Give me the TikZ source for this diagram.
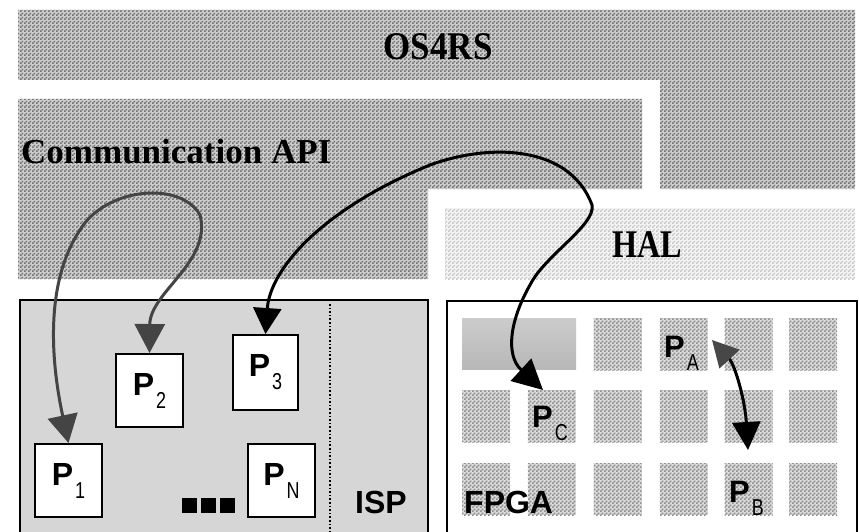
\documentclass[tikz,border=0pt]{standalone}
\usepackage{fontspec}
\setmainfont{Liberation Serif}
\setsansfont{Liberation Sans}
\usetikzlibrary{arrows.meta,patterns}

% fine checkerboard used for the dithered layer fills
\pgfdeclarepatternformonly{checker}{\pgfpointorigin}{\pgfpoint{4pt}{4pt}}{\pgfpoint{4pt}{4pt}}{%
  \pgfpathrectangle{\pgfpointorigin}{\pgfpoint{2pt}{2pt}}%
  \pgfpathrectangle{\pgfpoint{2pt}{2pt}}{\pgfpoint{2pt}{2pt}}%
  \pgfusepath{fill}}

\definecolor{osbase}{HTML}{CECECE}
\definecolor{osdots}{HTML}{6E6E6E}
\definecolor{halbase}{HTML}{F4F4F4}
\definecolor{haldots}{HTML}{C6C6C6}
\definecolor{cellbase}{HTML}{DCDCDC}
\definecolor{celldots}{HTML}{8C8C8C}
\definecolor{ispgray}{HTML}{D6D6D6}
\definecolor{loopgray}{HTML}{444444}

% P with a lowered, narrow index
\newcommand\plab[1]{\textbf{P}\kern2pt\raisebox{-13pt}{\fontsize{23}{23}\selectfont\scalebox{0.78}[1]{#1}}}

\tikzset{
  oslayer/.style={preaction={fill=osbase},pattern=checker,pattern color=osdots},
  hallayer/.style={preaction={fill=halbase},pattern=checker,pattern color=haldots},
  tile/.style={rectangle,minimum width=48pt,minimum height=52pt,inner sep=0pt,
    preaction={fill=cellbase},pattern=checker,pattern color=celldots},
  layertext/.style={font=\fontsize{35}{40}\selectfont\bfseries,inner sep=0pt},
  sanstext/.style={font=\sffamily\fontsize{32}{32}\selectfont\bfseries,inner sep=0pt},
  plabel/.style={font=\sffamily\fontsize{31}{31}\selectfont,inner sep=0pt},
  pbox/.style={draw=black,line width=2pt,fill=white,minimum width=67pt,
    minimum height=73pt,inner sep=0pt,font=\sffamily\fontsize{32}{32}\selectfont},
  container/.style={draw=black,line width=2.5pt},
  link/.style={line width=3pt,line cap=round}
}

\begin{document}
\begin{tikzpicture}[x=1pt,y=-1pt]
\useasboundingbox (0,0) rectangle (859,532);
\clip (0,0) rectangle (859,532);
\fill[white] (0,0) rectangle (859,532);

% OS4RS layer (L shape)
\fill[oslayer] (18,10) -- (855,10) -- (855,189) -- (660,189) -- (660,80) -- (18,80) -- cycle;
% Communication API layer
\fill[oslayer] (18,99) -- (642,99) -- (642,189) -- (428,189) -- (428,279) -- (18,279) -- cycle;
% HAL layer
\fill[hallayer] (445,208) rectangle (855,279);

\node[layertext,anchor=base] (os) at (438,60) {\scalebox{1}[1.12]{OS4RS}};
\node[layertext,anchor=base west] (api) at (21,164) {Communication API};
\node[layertext,anchor=base] (hal) at (647,257) {\scalebox{0.92}[1.12]{HAL}};

% processor side
\draw[container,fill=ispgray] (20,300) rectangle (428,550);
\coordinate (divtop) at (330,304);
\coordinate (divbot) at (330,532);
\draw[dotted,line width=1.6pt] (divtop) -- (divbot);
\node[sanstext,anchor=base] (isp) at (381,513) {ISP};

\node[pbox] (p1) at (68.5,480.5) {\plab{1}};
\node[pbox] (p2) at (149.5,390.5) {\plab{2}};
\node[pbox,minimum width=65pt,minimum height=75pt] (p3) at (265.5,372.5) {\plab{3}};
\node[pbox] (pn) at (281.5,480.5) {\plab{N}};

\foreach \i/\x in {1/189,2/208,3/227}
  \node[fill=black,minimum size=15pt,inner sep=0pt] (dot\i) at (\x,505.5) {};

% FPGA side
\draw[container,fill=white] (447,301) rectangle (857,550);
\node[rectangle,minimum width=114pt,minimum height=51pt,inner sep=0pt,
      top color=black!20,bottom color=black!28] (slot) at (519,343.5) {};
\foreach \r/\y in {0/344,1/416,2/489}
  \foreach \c/\x in {0/486,1/551.5,2/617.5,3/683.5,4/748.5,5/813}{
    \ifnum\r=0 \ifnum\c<2 \else
      \node[tile] (t-\r-\c) at (\x,\y) {};
    \fi\else
      \node[tile] (t-\r-\c) at (\x,\y) {};
    \fi
  }

\node[sanstext,anchor=base west] (fpga) at (464,513) {FPGA};
\node[plabel,anchor=base west] (pa) at (664,357) {\plab{A}};
\node[plabel,anchor=base west] (pc) at (532,427) {\plab{C}};
\node[plabel,anchor=base west] (pb) at (729,502) {\plab{B}};

% task communication links
\draw[link,color=loopgray,
  {Triangle[length=28pt,width=30pt]}-{Triangle[length=29pt,width=30pt]}] (p1.north)
  .. controls (55,380) and (40,290) .. (80,230)
  .. controls (105,188) and (180,180) .. (200,215)
  .. controls (212,262) and (150,292) .. (p2.north);

\coordinate (tipC) at (543,390);
\draw[link,
  {Triangle[length=26pt,width=28pt]}-{Triangle[length=30pt,width=30pt]}] (p3.north)
  .. controls (270,270) and (320,210) .. (430,165)
  .. controls (490,143) and (570,145) .. (592,205)
  .. controls (596,225) and (545,255) .. (530,285)
  .. controls (510,320) and (505,355) .. (tipC);

\coordinate (tipA) at (712,340);
\coordinate (tipB) at (748,450);
\draw[link,
  {Triangle[length=26pt,width=27pt,color=black!72]}-{Triangle[length=28pt,width=28pt]}] (tipA)
  .. controls (735,365) and (745,400) .. (tipB);
\end{tikzpicture}
\end{document}
